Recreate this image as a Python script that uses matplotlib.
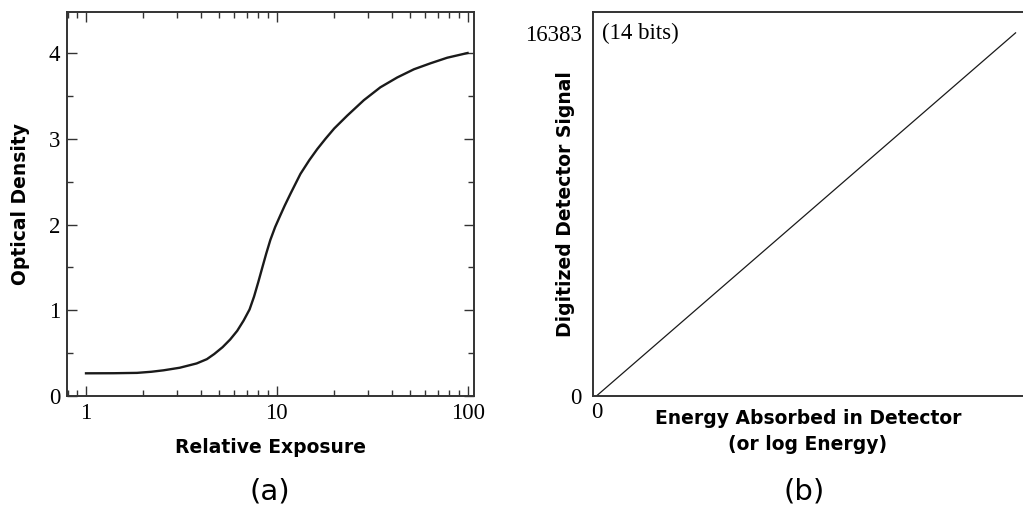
import matplotlib
matplotlib.use("Agg")
import matplotlib.pyplot as plt
from matplotlib.ticker import LogLocator, NullFormatter, MultipleLocator, FixedLocator

# characteristic (H&D) curve of film: relative exposure vs optical density
exposure = [1.0, 1.4, 1.85, 2.2, 2.55, 3.1, 3.8, 4.3, 4.7, 5.2, 5.7, 6.2, 6.7, 7.2,
            7.6, 8.0, 8.4, 8.8, 9.25, 9.8, 10.4, 11.0, 11.8, 13.3, 14.8, 16.3, 18.0,
            20.0, 23.4, 28.6, 34.9, 42.8, 52.3, 63.9, 78.2, 100.0]
density = [0.265, 0.266, 0.27, 0.283, 0.30, 0.33, 0.38, 0.43, 0.49, 0.57, 0.66, 0.76,
           0.88, 1.01, 1.16, 1.33, 1.50, 1.66, 1.82, 1.97, 2.10, 2.22, 2.36, 2.59,
           2.75, 2.88, 3.00, 3.12, 3.27, 3.45, 3.60, 3.715, 3.81, 3.88, 3.945, 4.0]

# digital detector: linear response up to 14-bit full scale
energy = [0.0, 1.0]
signal = [0, 16383]

SERIF = ["Liberation Serif", "DejaVu Serif"]
LABEL_KW = dict(fontsize=13.5, fontweight="bold", family="DejaVu Sans")
TICK_SIZE = 16.5

fig = plt.figure(figsize=(10.23, 5.15), dpi=100)

# ---- (a) film ----
ax1 = fig.add_axes([0.0655, 0.231, 0.3978, 0.746])
ax1.plot(exposure, density, color="#1a1a1a", lw=1.7)
ax1.set_xscale("log")
ax1.set_xlim(0.795, 108)
ax1.set_ylim(0, 4.48)
ax1.xaxis.set_major_locator(FixedLocator([1, 10, 100]))
ax1.xaxis.set_minor_locator(LogLocator(base=10, subs=range(2, 10)))
ax1.xaxis.set_minor_formatter(NullFormatter())
ax1.set_xticklabels(["1", "10", "100"])
ax1.yaxis.set_major_locator(MultipleLocator(1))
ax1.yaxis.set_minor_locator(MultipleLocator(0.5))
ax1.tick_params(which="both", direction="in", top=True, right=True,
                width=1.0, color="#333333")
ax1.tick_params(which="major", length=7, labelsize=TICK_SIZE, pad=5)
ax1.tick_params(which="minor", length=4)
for lab in ax1.get_xticklabels() + ax1.get_yticklabels():
    lab.set_family(SERIF)
for sp in ax1.spines.values():
    sp.set_linewidth(1.4)
    sp.set_color("#333333")
ax1.set_xlabel("Relative Exposure", **LABEL_KW)
ax1.set_ylabel("Optical Density", **LABEL_KW)
ax1.xaxis.set_label_coords(0.5, -0.108)
ax1.yaxis.set_label_coords(-0.09, 0.5)

# ---- (b) digital detector ----
ax2 = fig.add_axes([0.5797, 0.231, 0.42, 0.746])
ax2.plot(energy, signal, color="#1a1a1a", lw=0.9)
ax2.set_xlim(-0.008, 1.017)
ax2.set_ylim(0, 17331)
ax2.set_xticks([0])
ax2.set_xticklabels(["0"])
ax2.set_yticks([0, 16383])
ax2.set_yticklabels(["0", "16383"])
ax2.tick_params(length=0, labelsize=TICK_SIZE, pad=8)
ax2.tick_params(axis="x", pad=4)
for lab in ax2.get_xticklabels() + ax2.get_yticklabels():
    lab.set_family(SERIF)
for sp in ax2.spines.values():
    sp.set_linewidth(1.4)
    sp.set_color("#333333")
ax2.spines["right"].set_visible(False)
ax2.text(0.02, 0.945, "(14 bits)", transform=ax2.transAxes, fontsize=TICK_SIZE,
         family=SERIF, va="center", ha="left")
ax2.set_xlabel("Energy Absorbed in Detector\n(or log Energy)",
               linespacing=1.5, **LABEL_KW)
ax2.set_ylabel("Digitized Detector Signal", **LABEL_KW)
ax2.xaxis.set_label_coords(0.5, -0.033)
ax2.yaxis.set_label_coords(-0.042, 0.5)

fig.text(0.264, 0.045, "(a)", fontsize=21, ha="center", va="center")
fig.text(0.786, 0.046, "(b)", fontsize=21, ha="center", va="center")

fig.savefig("out.png", dpi=100, facecolor="white")
